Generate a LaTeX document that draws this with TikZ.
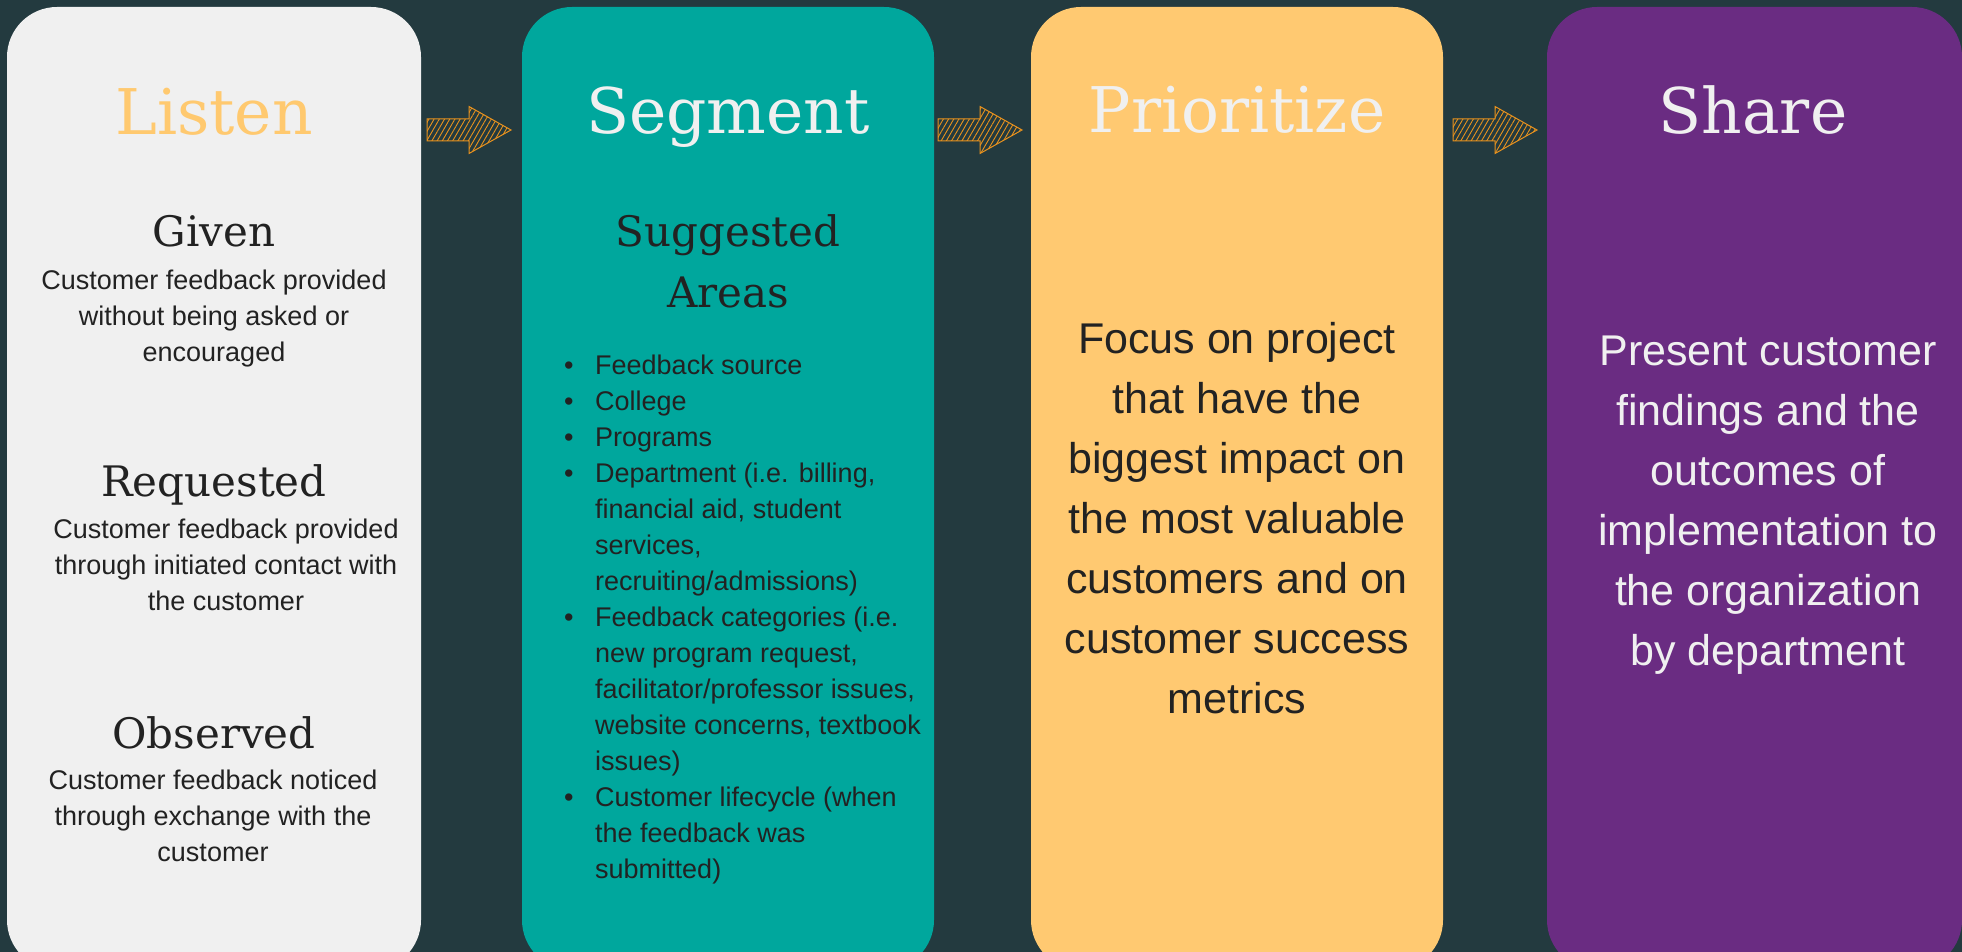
\documentclass[tikz,border=0pt]{standalone}
\usepackage{fontspec}
\setmainfont{Liberation Sans}
\newfontfamily\headfont{DejaVu Serif}
\usetikzlibrary{patterns.meta}

\definecolor{bgdark}{HTML}{233A3F}
\definecolor{listenbg}{HTML}{F0F0F0}
\definecolor{segmentbg}{HTML}{00A79D}
\definecolor{prioritybg}{HTML}{FFC971}
\definecolor{sharebg}{HTML}{6A2C82}
\definecolor{listenhead}{HTML}{FFC96F}
\definecolor{inkdark}{HTML}{222222}
\definecolor{inklight}{HTML}{F0F0F0}
\definecolor{arroworange}{HTML}{E8921E}

\tikzset{
  column/.style={rounded corners=50pt},
  mainhead/.style={anchor=base, inner sep=0pt, font=\headfont\fontsize{63}{63}\selectfont},
  subhead/.style={anchor=base, inner sep=0pt, text=inkdark, font=\headfont\fontsize{42}{60}\selectfont},
  bodytext/.style={anchor=north, inner sep=0pt, align=center, text=inkdark, font=\fontsize{27}{36}\selectfont},
  bigtext/.style={anchor=north, inner sep=0pt, align=center, font=\fontsize{43}{60}\selectfont},
  hatcharrow/.style={draw=arroworange, line width=1pt, line join=miter,
    pattern={Lines[angle=60, distance=4.5pt, line width=0.9pt]}, pattern color=arroworange}
}

\newcommand{\itembullet}{\makebox[32pt][l]{\hspace*{1pt}\textbullet}}
\newcommand{\itemgap}{\hspace*{32pt}}

\begin{document}
\begin{tikzpicture}[x=1pt, y=-1pt]
  % canvas
  \useasboundingbox (0,0) rectangle (1962,952);
  \fill[bgdark] (0,0) rectangle (1962,952);

  % the four stage columns (they run past the bottom edge)
  \begin{scope}
    \clip (0,0) rectangle (1962,952);
    \fill[listenbg, column]   (7,7)    rectangle (421,970);
    \fill[segmentbg, column]  (522,7)  rectangle (934,970);
    \fill[prioritybg, column] (1031,7) rectangle (1443,970);
    \fill[sharebg, column]    (1547,7) rectangle (1962,970);
  \end{scope}

  % hatched arrows between the columns
  \foreach \x in {427, 938, 1453} {
    \draw[hatcharrow] (\x,119) -- (\x+42,119) -- (\x+42,106.5) -- (\x+84,130)
      -- (\x+42,153.5) -- (\x+42,141) -- (\x,141) -- cycle;
  }

  % Listen
  \node[mainhead, text=listenhead] (listenhead) at (214,135) {Listen};
  \node[subhead] (given) at (214,247) {Given};
  \node[bodytext] (giventext) at (214,270)
    {Customer feedback provided\\without being asked or\\encouraged};
  \node[subhead] (requested) at (214,496) {Requested};
  \node[bodytext] (requestedtext) at (226,519)
    {Customer feedback provided\\through initiated contact with\\the customer};
  \node[subhead] (observed) at (214,748) {Observed};
  \node[bodytext] (observedtext) at (213,770)
    {Customer feedback noticed\\through exchange with the\\customer};

  % Segment
  \node[mainhead, text=inklight] (segmenthead) at (728,134) {Segment};
  \node[subhead] (suggested) at (728,247) {Suggested};
  \node[subhead] (areas) at (728,307) {Areas};
  \node[bodytext, anchor=north west, align=left] (arealist) at (563,355)
    {\itembullet Feedback source\\
     \itembullet College\\
     \itembullet Programs\\
     \itembullet Department (i.e. billing,\\
     \itemgap financial aid, student\\
     \itemgap services,\\
     \itemgap recruiting/admissions)\\
     \itembullet Feedback categories (i.e.\\
     \itemgap new program request,\\
     \itemgap facilitator/professor issues,\\
     \itemgap website concerns, textbook\\
     \itemgap issues)\\
     \itembullet Customer lifecycle (when\\
     \itemgap the feedback was\\
     \itemgap submitted)};

  % Prioritize
  \node[mainhead, text=inklight] (priorityhead) at (1237,133) {Prioritize};
  \node[bigtext, text=inkdark] (prioritytext) at (1237,322.5)
    {Focus on project\\that have the\\biggest impact on\\the most valuable\\customers and on\\customer success\\metrics};

  % Share
  \node[mainhead, text=inklight] (sharehead) at (1753,134) {Share};
  \node[bigtext, text=inklight] (sharetext) at (1768,336)
    {Present customer\\findings and the\\outcomes of\\implementation to\\the organization\\by department};
\end{tikzpicture}
\end{document}
